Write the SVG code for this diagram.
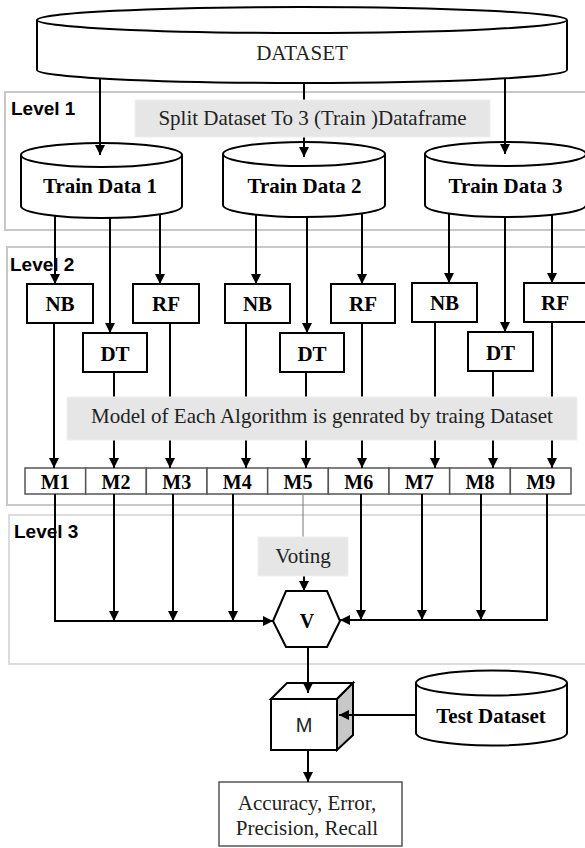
<svg xmlns="http://www.w3.org/2000/svg" width="585" height="848" viewBox="0 0 585 848">
<defs>
<marker id="ah" markerWidth="10" markerHeight="10" refX="10" refY="5" orient="auto" markerUnits="userSpaceOnUse">
<path d="M0,0 L10,5 L0,10 z" fill="#000"/>
</marker>
<style>
.frame{fill:none;stroke:#c8c8c8;stroke-width:2}
.lvl{font-family:"Liberation Sans",Arial,sans-serif;font-weight:bold;font-size:19px;fill:#000}
.shape{fill:#fff;stroke:#000;stroke-width:2}
.t{font-family:"Liberation Serif","Times New Roman",serif;font-size:21px;fill:#222;text-anchor:middle}
.b{font-weight:bold;fill:#000}
.lbl{fill:#e6e6e6;stroke:#efefef;stroke-width:1}
.c{fill:none;stroke:#000;stroke-width:2}
.ca{fill:none;stroke:#000;stroke-width:2;marker-end:url(#ah)}
.cell{fill:#fff;stroke:#555;stroke-width:1.5}
</style>
</defs>

<g id="frames">
<rect class="frame" x="5" y="92" width="590" height="138"/>
<rect class="frame" x="7" y="247" width="590" height="258"/>
<rect class="frame" x="9" y="515" width="590" height="149" style="stroke:#dcdcdc"/>
<text class="lvl" x="11" y="115">Level 1</text>
<text class="lvl" x="10" y="271">Level 2</text>
<text class="lvl" x="14" y="538">Level 3</text>
</g>

<g id="dataset">
<path class="shape" d="M37,20 V70 A265,13 0 0 0 567,70 V20"/>
<ellipse class="shape" cx="302" cy="20" rx="265" ry="13"/>
<text class="t" x="302" y="60">DATASET</text>
</g>

<g id="train1">
<path class="shape" d="M21,155 V206 A80.5,12 0 0 0 182,206 V155"/>
<ellipse class="shape" cx="101.5" cy="155" rx="80.5" ry="12"/>
<text class="t b" x="100" y="193">Train Data 1</text>
</g>
<g id="train2">
<path class="shape" d="M223,154 V205 A81,12 0 0 0 385,205 V154"/>
<ellipse class="shape" cx="304" cy="154" rx="81" ry="12"/>
<text class="t b" x="304.5" y="193">Train Data 2</text>
</g>
<g id="train3">
<path class="shape" d="M425,154 V205 A80.5,12 0 0 0 586,205 V154"/>
<ellipse class="shape" cx="505.5" cy="154" rx="80.5" ry="12"/>
<text class="t b" x="505.5" y="193">Train Data 3</text>
</g>

<g id="nb1"><rect class="shape" x="27" y="284" width="66" height="39"/><text class="t b" x="60" y="311">NB</text></g>
<g id="dt1"><rect class="shape" x="83" y="333" width="64" height="39"/><text class="t b" x="115" y="361">DT</text></g>
<g id="rf1"><rect class="shape" x="133" y="284" width="66" height="39"/><text class="t b" x="166" y="311">RF</text></g>
<g id="nb2"><rect class="shape" x="225" y="284" width="65" height="39"/><text class="t b" x="257.5" y="311">NB</text></g>
<g id="dt2"><rect class="shape" x="280" y="333" width="64" height="39"/><text class="t b" x="312" y="361">DT</text></g>
<g id="rf2"><rect class="shape" x="331" y="284" width="64" height="39"/><text class="t b" x="363" y="311">RF</text></g>
<g id="nb3"><rect class="shape" x="412" y="283" width="65" height="39"/><text class="t b" x="444.5" y="310">NB</text></g>
<g id="dt3"><rect class="shape" x="468" y="332" width="65" height="39"/><text class="t b" x="500.5" y="360">DT</text></g>
<g id="rf3"><rect class="shape" x="524" y="283" width="64" height="39"/><text class="t b" x="555" y="310">RF</text></g>

<g id="models">
<rect class="cell" x="25" y="468" width="60.67" height="26"/>
<rect class="cell" x="85.67" y="468" width="60.67" height="26"/>
<rect class="cell" x="146.33" y="468" width="60.67" height="26"/>
<rect class="cell" x="207" y="468" width="60.67" height="26"/>
<rect class="cell" x="267.67" y="468" width="60.67" height="26"/>
<rect class="cell" x="328.33" y="468" width="60.67" height="26"/>
<rect class="cell" x="389" y="468" width="60.67" height="26"/>
<rect class="cell" x="449.67" y="468" width="60.67" height="26"/>
<rect class="cell" x="510.33" y="468" width="60.67" height="26"/>
<g class="t b" style="font-size:20px">
<text x="55.3" y="489">M1</text>
<text x="116" y="489">M2</text>
<text x="176.7" y="489">M3</text>
<text x="237.3" y="489">M4</text>
<text x="298" y="489">M5</text>
<text x="358.7" y="489">M6</text>
<text x="419.3" y="489">M7</text>
<text x="480" y="489">M8</text>
<text x="540.7" y="489">M9</text>
</g>
</g>

<g id="vote">
<polygon class="shape" points="273,621 286,591 327,591 340,621 327,647 286,647"/>
<text class="t b" x="307" y="628" style="font-size:20px">V</text>
</g>

<g id="cube">
<rect class="shape" x="271" y="699" width="66" height="51"/>
<polygon class="shape" points="271,699 287,683 353,683 337,699"/>
<polygon class="shape" points="337,699 353,683 353,735 337,750" style="fill:#c8c8c8"/>
<text x="304" y="732" style="font-family:'Liberation Sans',Arial,sans-serif;font-size:20px;text-anchor:middle;fill:#222">M</text>
</g>

<g id="testdata">
<path class="shape" d="M416,683 V733 A75.5,12.5 0 0 0 567,733 V683"/>
<ellipse class="shape" cx="491.5" cy="683" rx="75.5" ry="12.5"/>
<text class="t b" x="491" y="723">Test Dataset</text>
</g>

<g id="result">
<rect x="219" y="782" width="183" height="64" style="fill:#fff;stroke:#555;stroke-width:1.5"/>
<text class="t" x="307" y="810">Accuracy, Error,</text>
<text class="t" x="307" y="835">Precision, Recall</text>
</g>

<g id="connectors">
<path class="ca" d="M100,78 V155"/>
<path class="ca" d="M304,83 V157"/>
<path class="ca" d="M505,78 V154"/>
<path class="ca" d="M55,215 V284"/>
<path class="ca" d="M110,218 V333"/>
<path class="ca" d="M160,214 V284"/>
<path class="ca" d="M256,214 V284"/>
<path class="ca" d="M307,217 V333"/>
<path class="ca" d="M362,213 V284"/>
<path class="ca" d="M449,214 V283"/>
<path class="ca" d="M505,217 V332"/>
<path class="ca" d="M552,214 V283"/>
<path class="ca" d="M54,323 V468"/>
<path class="ca" d="M114,372 V468"/>
<path class="ca" d="M170,323 V468"/>
<path class="ca" d="M246,323 V468"/>
<path class="ca" d="M306,372 V468"/>
<path class="ca" d="M362,323 V468"/>
<path class="ca" d="M435,322 V468"/>
<path class="ca" d="M493,371 V468"/>
<path class="ca" d="M552,322 V468"/>
<path class="ca" d="M55,494 V621 H273"/>
<path class="ca" d="M114,494 V621"/>
<path class="ca" d="M173,494 V621"/>
<path class="ca" d="M233,494 V621"/>
<path d="M303,494 V537" style="stroke:#777;stroke-width:1;fill:none"/>
<path class="ca" d="M304,576 V591"/>
<path class="ca" d="M361,494 V620"/>
<path class="ca" d="M422,494 V620"/>
<path class="ca" d="M481,494 V620"/>
<path class="ca" d="M547,494 V620 H340"/>
<path class="ca" d="M308,647 V693"/>
<path class="ca" d="M416,715 H339"/>
<path class="ca" d="M308,750 V782"/>
</g>

<g id="labels">
<rect class="lbl" x="135" y="100" width="355" height="37"/>
<text class="t" x="312.5" y="125">Split Dataset To 3 (Train )Dataframe</text>
<rect class="lbl" x="67" y="397" width="510" height="43"/>
<text class="t" x="322" y="423">Model of Each Algorithm is genrated by traing Dataset</text>
<rect class="lbl" x="258" y="537" width="90" height="39"/>
<text class="t" x="303" y="563">Voting</text>
</g>
</svg>
